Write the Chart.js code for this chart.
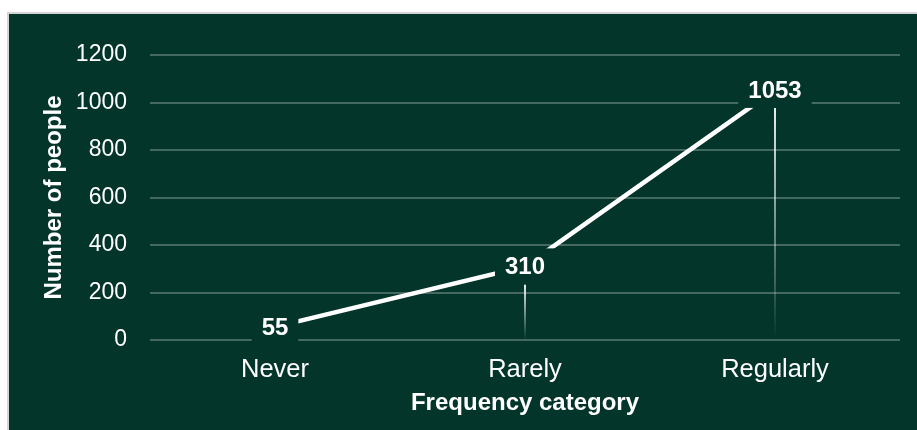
<!DOCTYPE html>
<html><head><meta charset="utf-8">
<script src="https://cdn.jsdelivr.net/npm/chart.js@4"></script>
<style>
html,body{margin:0;padding:0;background:#fff;width:917px;height:430px;overflow:hidden}
#frame{position:absolute;left:7px;top:12px;width:940px;height:440px;background:#04352a;border-top:2px solid #d4d4d4;border-left:2px solid #d4d4d4;box-sizing:border-box}
#c{position:absolute;left:0;top:0}
</style></head><body>
<div id="frame"></div>
<canvas id="c" width="917" height="430"></canvas>
<script>
const categories = ['Never', 'Rarely', 'Regularly'];
const peopleCounts = [55, 310, 1053];
const yTickValues = [0, 200, 400, 600, 800, 1000, 1200];
const xAxisTitle = 'Frequency category';
const yAxisTitle = 'Number of people';

const BG = '#04352a';
const FONT = '"Liberation Sans", Arial, Helvetica, sans-serif';

const markerPlugin = {
  id: 'markers',
  beforeDatasetsDraw(chart) {
    const {ctx} = chart;
    const meta = chart.getDatasetMeta(0);
    const base = chart.scales.y.getPixelForValue(0);
    ctx.save();
    meta.data.forEach((pt) => {
      const top = pt.y + 18;
      if (top >= base) return;
      const g = ctx.createLinearGradient(0, top, 0, base);
      g.addColorStop(0, 'rgba(255,255,255,0.92)');
      g.addColorStop(1, 'rgba(255,255,255,0)');
      ctx.strokeStyle = g;
      ctx.lineWidth = 2;
      ctx.beginPath();
      ctx.moveTo(pt.x, top);
      ctx.lineTo(pt.x, base);
      ctx.stroke();
    });
    ctx.restore();
  },
  afterDatasetsDraw(chart) {
    const {ctx} = chart;
    const meta = chart.getDatasetMeta(0);
    const values = chart.data.datasets[0].data;
    ctx.save();
    ctx.font = 'bold 24px ' + FONT;
    ctx.textAlign = 'center';
    ctx.textBaseline = 'middle';
    meta.data.forEach((pt, i) => {
      const txt = String(values[i]);
      const w = ctx.measureText(txt).width + 20;
      ctx.fillStyle = BG;
      ctx.fillRect(pt.x - w / 2, pt.y - 18, w, 36);
      ctx.fillStyle = '#ffffff';
      ctx.fillText(txt, pt.x, pt.y + 1);
    });
    ctx.restore();
  }
};

new Chart(document.getElementById('c'), {
  type: 'line',
  data: {
    labels: categories,
    datasets: [{
      data: peopleCounts,
      borderColor: '#ffffff',
      borderWidth: 4.5,
      pointRadius: 0,
      tension: 0,
      fill: false
    }]
  },
  options: {
    responsive: false,
    animation: false,
    events: [],
    layout: {padding: {left: 0, top: 55, right: 17, bottom: 0}},
    plugins: {legend: {display: false}, tooltip: {enabled: false}},
    scales: {
      x: {
        offset: true,
        grid: {display: false, drawTicks: false},
        border: {display: false},
        ticks: {color: '#ffffff', font: {family: FONT, size: 25.5}, padding: 15, maxRotation: 0},
        title: {display: true, text: xAxisTitle, color: '#ffffff', font: {family: FONT, size: 24, weight: 'bold'}, padding: {top: 0, bottom: 12}},
        afterFit(scale) { scale.height = 90; }
      },
      y: {
        min: 0,
        max: 1200,
        afterBuildTicks(scale) { scale.ticks = yTickValues.map(v => ({value: v})); },
        grid: {color: 'rgba(255,255,255,0.26)', lineWidth: 2, drawTicks: false},
        border: {display: false},
        ticks: {color: '#ffffff', font: {family: FONT, size: 23}, padding: 23, callback: (v) => String(v)},
        title: {display: true, text: yAxisTitle, color: '#ffffff', font: {family: FONT, size: 24, weight: 'bold'}, padding: {top: 40, bottom: 0}},
        afterFit(scale) { scale.width = 150; }
      }
    }
  },
  plugins: [markerPlugin]
});
</script>
</body></html>
